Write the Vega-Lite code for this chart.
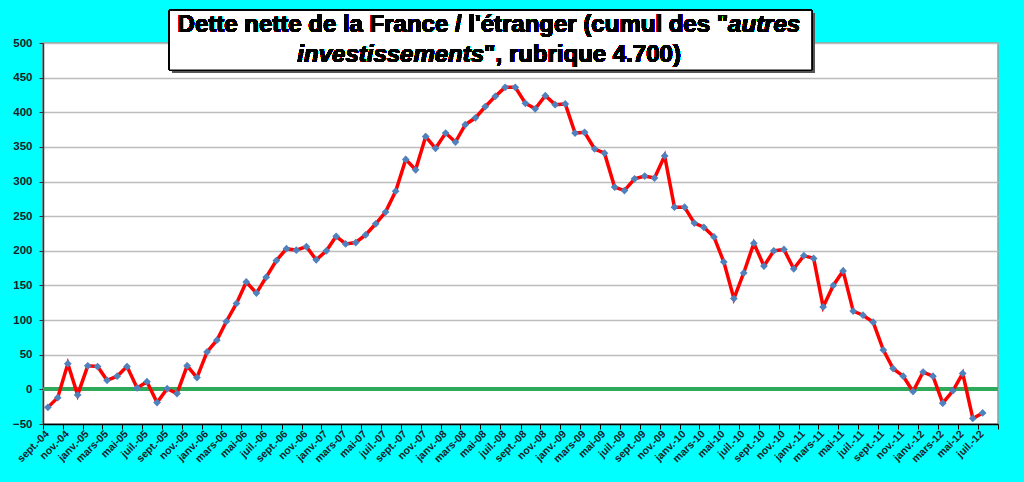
{
  "$schema": "https://vega.github.io/schema/vega-lite/v6.json",
  "description": "Dette nette de la France vis-à-vis de l'étranger, cumul des autres investissements.",
  "width": 955,
  "height": 381,
  "autosize": "none",
  "padding": {"left": 43, "top": 43, "right": 26, "bottom": 58},
  "background": "#00FFFF",
  "config": {
    "view": {"fill": "white", "stroke": "#999999", "strokeWidth": 1.5},
    "axis": {
      "labelFont": "Liberation Sans",
      "labelFontWeight": "bold",
      "labelColor": "#1a2228",
      "title": null
    },
    "axisX": {
      "labelAngle": -45,
      "labelAlign": "right",
      "labelBaseline": "middle",
      "labelOffset": 4,
      "labelPadding": 3,
      "labelFontSize": 10.5,
      "labelOverlap": false,
      "labelBound": false,
      "labelFlush": false,
      "grid": false,
      "domainColor": "#000000",
      "domainWidth": 1.5,
      "tickColor": "#000000",
      "tickSize": 5
    },
    "axisY": {
      "labelFontSize": 11.5,
      "labelPadding": 7,
      "labelOverlap": false,
      "grid": true,
      "gridColor": "#BDBDBD",
      "gridWidth": 1.5,
      "domainColor": "#333333",
      "domainWidth": 1.5,
      "tickColor": "#333333",
      "tickSize": 4
    }
  },
  "data": {
    "values": [
      {"mois": "2004-09-16", "dette": -26},
      {"mois": "2004-10-16", "dette": -12},
      {"mois": "2004-11-16", "dette": 37},
      {"mois": "2004-12-16", "dette": -8},
      {"mois": "2005-01-16", "dette": 34},
      {"mois": "2005-02-15", "dette": 33},
      {"mois": "2005-03-16", "dette": 13},
      {"mois": "2005-04-16", "dette": 19},
      {"mois": "2005-05-16", "dette": 33},
      {"mois": "2005-06-16", "dette": 2},
      {"mois": "2005-07-16", "dette": 11},
      {"mois": "2005-08-16", "dette": -19},
      {"mois": "2005-09-16", "dette": 1},
      {"mois": "2005-10-16", "dette": -6},
      {"mois": "2005-11-16", "dette": 34},
      {"mois": "2005-12-16", "dette": 17},
      {"mois": "2006-01-16", "dette": 54},
      {"mois": "2006-02-15", "dette": 71},
      {"mois": "2006-03-16", "dette": 98},
      {"mois": "2006-04-16", "dette": 124},
      {"mois": "2006-05-16", "dette": 155},
      {"mois": "2006-06-16", "dette": 139},
      {"mois": "2006-07-16", "dette": 162},
      {"mois": "2006-08-16", "dette": 186},
      {"mois": "2006-09-16", "dette": 203},
      {"mois": "2006-10-16", "dette": 201},
      {"mois": "2006-11-16", "dette": 206},
      {"mois": "2006-12-16", "dette": 187},
      {"mois": "2007-01-16", "dette": 200},
      {"mois": "2007-02-15", "dette": 221},
      {"mois": "2007-03-16", "dette": 210},
      {"mois": "2007-04-16", "dette": 212},
      {"mois": "2007-05-16", "dette": 223},
      {"mois": "2007-06-16", "dette": 239},
      {"mois": "2007-07-16", "dette": 256},
      {"mois": "2007-08-16", "dette": 286},
      {"mois": "2007-09-16", "dette": 332},
      {"mois": "2007-10-16", "dette": 317},
      {"mois": "2007-11-16", "dette": 365},
      {"mois": "2007-12-16", "dette": 348},
      {"mois": "2008-01-16", "dette": 370},
      {"mois": "2008-02-15", "dette": 357},
      {"mois": "2008-03-16", "dette": 382},
      {"mois": "2008-04-16", "dette": 392},
      {"mois": "2008-05-16", "dette": 408},
      {"mois": "2008-06-16", "dette": 423},
      {"mois": "2008-07-16", "dette": 436},
      {"mois": "2008-08-16", "dette": 436},
      {"mois": "2008-09-16", "dette": 413},
      {"mois": "2008-10-16", "dette": 405},
      {"mois": "2008-11-16", "dette": 424},
      {"mois": "2008-12-16", "dette": 411},
      {"mois": "2009-01-16", "dette": 412},
      {"mois": "2009-02-15", "dette": 370},
      {"mois": "2009-03-16", "dette": 371},
      {"mois": "2009-04-16", "dette": 347},
      {"mois": "2009-05-16", "dette": 341},
      {"mois": "2009-06-16", "dette": 292},
      {"mois": "2009-07-16", "dette": 287},
      {"mois": "2009-08-16", "dette": 304},
      {"mois": "2009-09-16", "dette": 308},
      {"mois": "2009-10-16", "dette": 305},
      {"mois": "2009-11-16", "dette": 337},
      {"mois": "2009-12-16", "dette": 263},
      {"mois": "2010-01-16", "dette": 263},
      {"mois": "2010-02-15", "dette": 240},
      {"mois": "2010-03-16", "dette": 234},
      {"mois": "2010-04-16", "dette": 220},
      {"mois": "2010-05-16", "dette": 184},
      {"mois": "2010-06-16", "dette": 131},
      {"mois": "2010-07-16", "dette": 168},
      {"mois": "2010-08-16", "dette": 211},
      {"mois": "2010-09-16", "dette": 178},
      {"mois": "2010-10-16", "dette": 200},
      {"mois": "2010-11-16", "dette": 202},
      {"mois": "2010-12-16", "dette": 174},
      {"mois": "2011-01-16", "dette": 193},
      {"mois": "2011-02-15", "dette": 189},
      {"mois": "2011-03-16", "dette": 119},
      {"mois": "2011-04-16", "dette": 150},
      {"mois": "2011-05-16", "dette": 171},
      {"mois": "2011-06-16", "dette": 113},
      {"mois": "2011-07-16", "dette": 107},
      {"mois": "2011-08-16", "dette": 97},
      {"mois": "2011-09-16", "dette": 57},
      {"mois": "2011-10-16", "dette": 30},
      {"mois": "2011-11-16", "dette": 19},
      {"mois": "2011-12-16", "dette": -3},
      {"mois": "2012-01-16", "dette": 25},
      {"mois": "2012-02-15", "dette": 19},
      {"mois": "2012-03-16", "dette": -20},
      {"mois": "2012-04-16", "dette": -2},
      {"mois": "2012-05-16", "dette": 23},
      {"mois": "2012-06-16", "dette": -42},
      {"mois": "2012-07-16", "dette": -34}
    ]
  },
  "layer": [
    {
      "mark": {"type": "rule", "color": "#2EAA5C", "strokeWidth": 3, "opacity": 0.6},
      "encoding": {
        "y": {
          "datum": 0,
          "type": "quantitative",
          "scale": {"domain": [-50, 500], "nice": false, "zero": false},
          "axis": {"values": [-50, 0, 50, 100, 150, 200, 250, 300, 350, 400, 450, 500], "tickCount": 20, "grid": true, "labelOverlap": false}
        }
      }
    },
    {
      "mark": {
        "type": "line",
        "color": "#FF0000",
        "strokeWidth": 3.5,
        "point": {"shape": "diamond", "filled": true, "color": "#4F81BD", "size": 60, "opacity": 1}
      },
      "encoding": {
        "x": {
          "field": "mois",
          "type": "temporal",
          "scale": {
            "type": "utc",
            "nice": false,
            "domain": [
              {"year": 2004, "month": 9, "date": 1, "utc": true},
              {"year": 2012, "month": 9, "date": 1, "utc": true}
            ]
          },
          "axis": {
            "tickCount": {"interval": "month", "step": 2},
            "labelExpr": "datum.value >= utc(2012, 8, 1) ? '' : ['janv.','févr.','mars','avr.','mai','juin','juil.','août','sept.','oct.','nov.','déc.'][utcmonth(datum.value)] + '-' + utcFormat(datum.value, '%y')",
            "grid": false,
            "labelOverlap": false
          }
        },
        "y": {
          "field": "dette",
          "type": "quantitative",
          "axis": {"values": [-50, 0, 50, 100, 150, 200, 250, 300, 350, 400, 450, 500], "tickCount": 20, "grid": true, "labelOverlap": false}
        }
      }
    },
    {
      "mark": {"type": "rect", "fill": "#555555", "opacity": 0.55, "xOffset": 3, "x2Offset": 3, "yOffset": 3, "y2Offset": 3},
      "encoding": {
        "x": {"datum": {"year": 2005, "month": 9, "date": 23, "utc": true}, "type": "temporal"},
        "x2": {"datum": {"year": 2011, "month": 2, "date": 9, "utc": true}},
        "y": {"datum": 547, "type": "quantitative"},
        "y2": {"datum": 461}
      }
    },
    {
      "mark": {"type": "rect", "fill": "white", "stroke": "#000000", "strokeWidth": 1},
      "encoding": {
        "x": {"datum": {"year": 2005, "month": 9, "date": 23, "utc": true}, "type": "temporal"},
        "x2": {"datum": {"year": 2011, "month": 2, "date": 9, "utc": true}},
        "y": {"datum": 547, "type": "quantitative"},
        "y2": {"datum": 461}
      }
    },
    {
      "mark": {"type": "text", "text": "Dette nette de la France / l'étranger (cumul des \"", "font": "Liberation Sans", "fontWeight": "bold", "fontSize": 24, "align": "right", "baseline": "alphabetic", "dx": 239, "color": "#000000"},
      "encoding": {
        "x": {"datum": {"year": 2008, "month": 5, "date": 28, "utc": true}, "type": "temporal"},
        "y": {"datum": 515.4, "type": "quantitative"}
      }
    },
    {
      "mark": {"type": "text", "text": "autres", "font": "Liberation Sans", "fontWeight": "bold", "fontStyle": "italic", "fontSize": 24, "align": "left", "baseline": "alphabetic", "dx": 239, "color": "#000000"},
      "encoding": {
        "x": {"datum": {"year": 2008, "month": 5, "date": 28, "utc": true}, "type": "temporal"},
        "y": {"datum": 515.4, "type": "quantitative"}
      }
    },
    {
      "mark": {"type": "text", "text": "investissements", "font": "Liberation Sans", "fontWeight": "bold", "fontStyle": "italic", "fontSize": 24, "align": "right", "baseline": "alphabetic", "dx": -5, "color": "#000000"},
      "encoding": {
        "x": {"datum": {"year": 2008, "month": 5, "date": 28, "utc": true}, "type": "temporal"},
        "y": {"datum": 472.2, "type": "quantitative"}
      }
    },
    {
      "mark": {"type": "text", "text": "\", rubrique 4.700)", "font": "Liberation Sans", "fontWeight": "bold", "fontSize": 24, "align": "left", "baseline": "alphabetic", "dx": -5, "color": "#000000"},
      "encoding": {
        "x": {"datum": {"year": 2008, "month": 5, "date": 28, "utc": true}, "type": "temporal"},
        "y": {"datum": 472.2, "type": "quantitative"}
      }
    }
  ]
}
